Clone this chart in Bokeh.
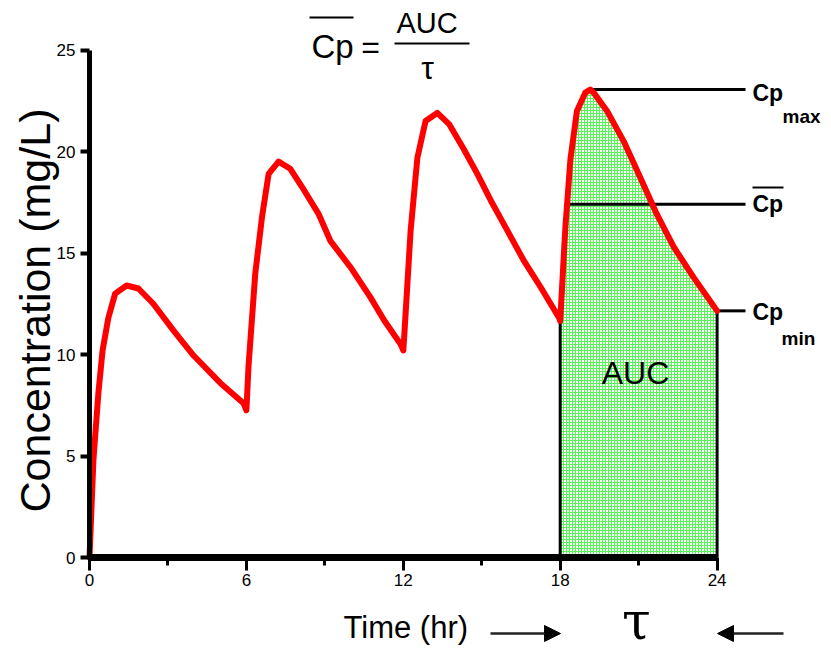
from bokeh.plotting import figure
from bokeh.models import Range1d, FixedTicker, Label, Arrow, NormalHead
from bokeh.embed import file_html
from bokeh.resources import INLINE

# ---- data ----
time_hr = [0, 0.15, 0.34, 0.5, 0.72, 0.98, 1.42, 1.87, 2.44, 3.2, 3.98, 5.0, 5.89, 6.0,
           6.08, 6.34, 6.6, 6.85, 7.23, 7.68, 8.13, 8.77, 9.21, 9.98, 10.75, 11.26, 11.9, 12.0,
           12.04, 12.28, 12.54, 12.85, 13.3, 13.75, 14.32, 14.83, 15.34, 15.98, 16.62, 17.26, 17.96, 18.0,
           18.2, 18.39, 18.64, 18.96, 19.15, 19.28, 19.79, 20.43, 21.07, 21.7, 22.34, 23.1, 24.0]
conc_mgL = [0, 4.8, 8.1, 10.2, 11.8, 13.0, 13.4, 13.25, 12.5, 11.2, 9.95, 8.6, 7.6, 7.25,
            9.4, 14.0, 16.8, 18.9, 19.5, 19.15, 18.25, 16.9, 15.6, 14.3, 12.8, 11.7, 10.5, 10.2,
            11.0, 16.1, 19.7, 21.5, 21.9, 21.35, 20.1, 18.9, 17.6, 16.1, 14.6, 13.3, 11.8, 11.65,
            16.3, 19.6, 22.0, 22.9, 23.05, 22.9, 22.0, 20.5, 18.7, 16.9, 15.3, 13.8, 12.15]
tau_start, tau_end = 18, 24
cp_max = 23.05
cp_avg = 17.4
cp_min = 12.15
x_major_ticks = [0, 6, 12, 18, 24]
x_minor_ticks = [3, 9, 15, 21]
y_ticks = [0, 5, 10, 15, 20, 25]

# ---- layout (pixel geometry of the canvas) ----
W, H = 831, 653
ORIG_X, ORIG_Y = 89, 557          # pixel position of (0, 0)
PX_PER_HR = 26.15
PX_PER_UNIT = 20.3


def X(px):
    return (px - ORIG_X) / PX_PER_HR


def Y(py):
    return (ORIG_Y - py) / PX_PER_UNIT


p = figure(width=W, height=H, output_backend="svg", toolbar_location=None,
           x_range=Range1d(X(0), X(W)), y_range=Range1d(Y(H), Y(0)),
           min_border_left=0, min_border_right=0, min_border_top=0, min_border_bottom=0)
p.outline_line_color = None
p.grid.visible = False
p.background_fill_color = "white"
p.border_fill_color = "white"

SANS = "Liberation Sans"
NARROW = "'Liberation Sans Narrow', 'Liberation Sans', sans-serif"

# x axis (sits at concentration 0)
xa = p.xaxis[0]
xa.fixed_location = 0
xa.ticker = FixedTicker(ticks=x_major_ticks, minor_ticks=x_minor_ticks)
xa.bounds = (x_major_ticks[0], x_major_ticks[-1])
xa.axis_line_width = 7
xa.axis_line_color = "black"
xa.major_tick_line_width = 3
xa.major_tick_out = 13
xa.major_tick_in = 0
xa.minor_tick_line_width = 3
xa.minor_tick_out = 8
xa.minor_tick_in = 0
xa.major_label_text_font = NARROW
xa.major_label_text_font_size = "17px"
xa.major_label_text_color = "black"
xa.major_label_standoff = 3

# y axis (sits at time 0)
ya = p.yaxis[0]
ya.fixed_location = 0
ya.ticker = FixedTicker(ticks=y_ticks)
ya.bounds = (y_ticks[0], y_ticks[-1])
ya.axis_line_width = 5
ya.axis_line_color = "black"
ya.major_tick_line_width = 4
ya.major_tick_out = 9
ya.major_tick_in = 0
ya.minor_tick_line_color = None
ya.major_label_text_font = NARROW
ya.major_label_text_font_size = "17px"
ya.major_label_text_color = "black"
ya.major_label_standoff = 5

# AUC area (last dosing interval)
i0 = time_hr.index(tau_start)
t4 = time_hr[i0:]
c4 = conc_mgL[i0:]
p.varea(x=t4, y1=[0] * len(t4), y2=c4, fill_color="white",
        hatch_pattern="+", hatch_color="#55f555", hatch_scale=3, hatch_weight=1.0)
p.segment(x0=[tau_start, tau_end], y0=[0, 0], x1=[tau_start, tau_end], y1=[c4[0], c4[-1]],
          line_color="black", line_width=3)

# reference lines to the labels
lab_x = X(745)
t_peak = t4[c4.index(max(c4))]
p.segment(x0=[t_peak, tau_start + 0.2, tau_end], y0=[cp_max, cp_avg, cp_min],
          x1=[lab_x, lab_x, lab_x], y1=[cp_max, cp_avg, cp_min],
          line_color="black", line_width=3)

# concentration curve
p.line(time_hr, conc_mgL, line_color="#ff0000", line_width=6, line_join="round", line_cap="round")


def lbl(text, px, py, size, font=SANS, style="normal", align="left", angle=0):
    p.add_layout(Label(x=X(px), y=Y(py), text=text, text_font=font, text_font_size=f"{size}px",
                       text_font_style=style, text_align=align, text_baseline="middle",
                       text_color="black", angle=angle, angle_units="deg"))


# y axis title
lbl("Concentration (mg/L)", 34, 310, 43, align="center", angle=90)

# title formula
lbl("Cp", 311, 46, 33)
lbl("=", 370, 46, 32, align="center")
lbl("AUC", 396, 22, 29)
lbl("τ", 427, 67, 32, align="center")
p.segment(x0=[X(309), X(394)], y0=[Y(17), Y(43)], x1=[X(353), X(469)], y1=[Y(17), Y(43)],
          line_color="black", line_width=2)

# right labels
lbl("Cp", 752, 92, 23, style="bold")
lbl("max", 782, 116, 19, style="bold")
lbl("Cp", 752, 203, 23, style="bold")
lbl("Cp", 752, 311, 23, style="bold")
lbl("min", 781, 338, 19, style="bold")
p.segment(x0=[X(752)], y0=[Y(187)], x1=[X(783)], y1=[Y(187)], line_color="black", line_width=2)

# AUC text
lbl("AUC", 635, 372, 32, align="center")

# bottom annotations
lbl("Time (hr)", 343, 627, 31, font=NARROW)
lbl("τ", 636, 620, 52, font="DejaVu Serif", align="center")
p.add_layout(Arrow(x_start=X(490), y_start=Y(633), x_end=X(560), y_end=Y(633),
                   line_color="#222222", line_width=2.5,
                   end=NormalHead(size=16, fill_color="black", line_color="black")))
p.add_layout(Arrow(x_start=X(783), y_start=Y(633), x_end=X(717), y_end=Y(633),
                   line_color="#222222", line_width=2.5,
                   end=NormalHead(size=16, fill_color="black", line_color="black")))

open("out.html", "w").write(file_html(p, INLINE))
